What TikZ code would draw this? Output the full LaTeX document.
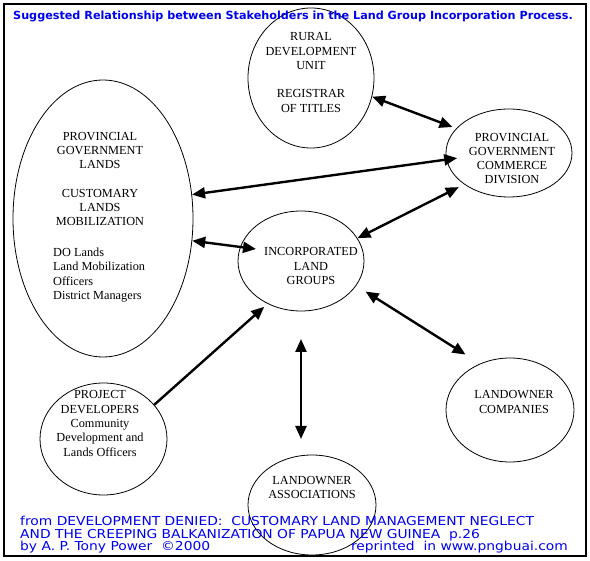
\documentclass[tikz,border=0pt]{standalone}
\usepackage{fontspec}
\setmainfont{Liberation Serif}
\newfontfamily\headfont{DejaVu Sans}
\newfontfamily\footfont[FakeStretch=1.125]{DejaVu Sans}
\usetikzlibrary{shapes.geometric,arrows.meta}
\definecolor{inkblue}{RGB}{0,0,240}
\newcommand{\serifsz}{\fontsize{12.3}{14.3}\selectfont}

\begin{document}
\begin{tikzpicture}[x=1pt, y=-1pt,
    blob/.style={ellipse, draw, line width=0.8pt, inner sep=0pt},
    txt/.style={align=center, font=\serifsz},
    foot/.style={text=inkblue, inner sep=0pt, font=\footfont\fontsize{12.3}{12.5}\selectfont},
    arr/.style={line width=2.4pt, {Triangle[length=13pt,width=11pt]}-{Triangle[length=13pt,width=11pt]}},
    arrone/.style={line width=2.4pt, -{Triangle[length=13pt,width=11pt]}}]
	\useasboundingbox (0,0) rectangle (590,561);
	\draw[line width=1.2pt] (4,4) rectangle (586,556);

	\node[blob, minimum width=126pt, minimum height=140pt] (rdu) at (311,78) {};
	\node[blob, minimum width=180pt, minimum height=277pt] (pgl) at (103,218.5) {};
	\node[blob, minimum width=126pt, minimum height=88pt] (pgc) at (509,153) {};
	\node[blob, minimum width=126pt, minimum height=100pt] (ilg) at (301,261) {};
	\node[blob, minimum width=128pt, minimum height=104pt] (loc) at (510,410) {};
	\node[blob, minimum width=127pt, minimum height=112pt] (pd) at (103.5,439) {};
	\node[blob, minimum width=128pt, minimum height=100pt] (loa) at (312,505) {};

	\node[txt] (rdu-t) at (311,72.5) {RURAL\\DEVELOPMENT\\UNIT\\[14.3pt]REGISTRAR\\OF TITLES};
	\node[txt] (pgl-t) at (100,179) {PROVINCIAL\\GOVERNMENT\\LANDS\\[14.3pt]CUSTOMARY\\LANDS\\MOBILIZATION};
	\node[txt, align=left, anchor=west, inner sep=0pt] (pgl-s) at (53,275) {DO Lands\\Land Mobilization\\Officers\\District Managers};
	\node[txt] (pgc-t) at (512,158.5) {PROVINCIAL\\GOVERNMENT\\COMMERCE\\DIVISION};
	\node[txt] (ilg-t) at (311,266) {INCORPORATED\\LAND\\GROUPS};
	\node[txt] (loc-t) at (514,402) {LANDOWNER\\COMPANIES};
	\node[txt] (pd-t) at (100,423.5) {PROJECT\\DEVELOPERS\\Community\\Development and\\Lands Officers};
	\node[txt] (loa-t) at (312,487.5) {LANDOWNER\\ASSOCIATIONS};

	\coordinate (vtop) at (301,339);
	\coordinate (vbot) at (301,439);

	\path[arr]
		(rdu.-17) edge[shorten >=4pt] (pgc.155.5)
		(pgl.15.4) edge[shorten >=-11pt] (pgc.186.7)
		(pgl.-14.6) edge[shorten >=-16pt] (ilg.167.5)
		(ilg.22.3) edge[shorten >=6pt] (pgc.215.5)
		(ilg.-24) edge[shorten <=11pt, shorten >=17pt] (loc.123.7)
		(vtop) edge (vbot)
	;
	\path[arrone] (pd.34) edge[shorten >=4.5pt] (ilg.232);

	\node[text=inkblue, inner sep=0pt, anchor=base, font=\headfont\bfseries\fontsize{11.2}{13}\selectfont] (title) at (293,20)
		{Suggested Relationship between Stakeholders in the Land Group Incorporation Process.};
	\node[foot, anchor=base west] (src1) at (20,526) {from DEVELOPMENT DENIED:~ CUSTOMARY LAND MANAGEMENT NEGLECT};
	\node[foot, anchor=base west] (src2) at (20,538.5) {AND THE CREEPING BALKANIZATION OF PAPUA NEW GUINEA~ p.26};
	\node[foot, anchor=base west] (src3) at (20,551) {by A. P. Tony Power~ ©2000};
	\node[foot, anchor=base east] (src4) at (568,551) {reprinted~ in www.pngbuai.com};
\end{tikzpicture}
\end{document}
